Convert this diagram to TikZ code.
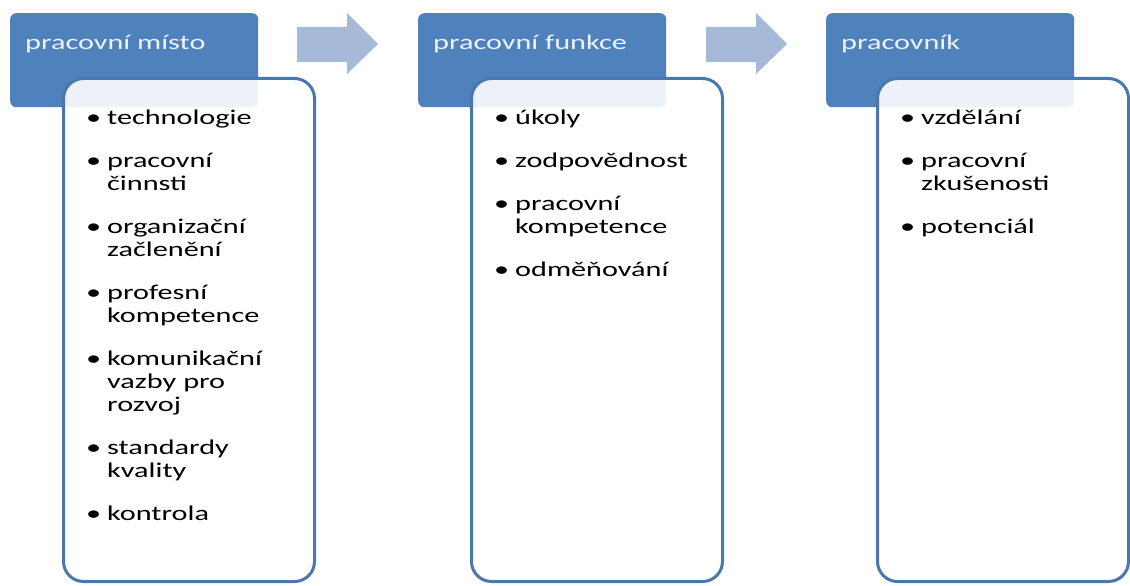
\documentclass[tikz,border=0pt]{standalone}
\usepackage{fontspec}
\setmainfont{Carlito}[FakeStretch=1.44]
\usepackage{tikz}
\usetikzlibrary{positioning}

\definecolor{headblue}{HTML}{4F81BD}
\definecolor{edgeblue}{HTML}{4B77AB}
\definecolor{arrowblue}{HTML}{A7B9D9}
\definecolor{headtext}{HTML}{EEF2F8}

\newcommand{\itm}[1]{\par\hangindent=21pt\hangafter=1\noindent\makebox[21pt][l]{•}#1}

\begin{document}
\begin{tikzpicture}[x=1pt,y=-1pt,
    head/.style={rectangle, rounded corners=6pt, fill=headblue, minimum width=248pt, minimum height=94pt, anchor=north west, inner sep=0pt},
    headlbl/.style={anchor=base west, inner sep=0pt, text=headtext, font=\fontsize{21}{23}\selectfont},
    body/.style={rectangle, rounded corners=20pt, draw=edgeblue, line width=3pt, fill=white, fill opacity=0.9, minimum width=251pt, minimum height=503pt, anchor=north west},
    list/.style={anchor=north west, inner sep=0pt, text width=215pt, font=\fontsize{21}{23}\selectfont},
    blockarrow/.style={fill=arrowblue}]
    \useasboundingbox (0,0) rectangle (1130,586);

    \node[head] (h1) at (10,13) {};
    \node[head] (h2) at (418,13) {};
    \node[head] (h3) at (826,13) {};

    \node[headlbl] (t1) at ([shift={(15,37)}]h1.north west) {pracovní místo};
    \node[headlbl] (t2) at ([shift={(15,37)}]h2.north west) {pracovní funkce};
    \node[headlbl] (t3) at ([shift={(15,37)}]h3.north west) {pracovník};

    \node[body] (b1) at (62,77) {};
    \node[body] (b2) at (470,77) {};
    \node[body] (b3) at (876,77) {};

    \node[list] (l1) at ([shift={(24,4)}]b1.north west) {\setlength{\parskip}{20pt}%
      \itm{technologie}
      \itm{pracovní\newline činnsti}
      \itm{organizační\newline začlenění}
      \itm{profesní\newline kompetence}
      \itm{komunikační\newline vazby pro\newline rozvoj}
      \itm{standardy\newline kvality}
      \itm{kontrola}};
    \node[list] (l2) at ([shift={(24,4)}]b2.north west) {\setlength{\parskip}{20pt}%
      \itm{úkoly}
      \itm{zodpovědnost}
      \itm{pracovní\newline kompetence}
      \itm{odměňování}};
    \node[list] (l3) at ([shift={(24,4)}]b3.north west) {\setlength{\parskip}{20pt}%
      \itm{vzdělání}
      \itm{pracovní\newline zkušenosti}
      \itm{potenciál}};

    % arrows between the headers
    \fill[blockarrow] (297,27) -- (347,27) -- (347,13) -- (378,44) -- (347,74) -- (347,62) -- (297,62) -- cycle;
    \fill[blockarrow] (706,27) -- (756,27) -- (756,13) -- (787,44) -- (756,74) -- (756,62) -- (706,62) -- cycle;
\end{tikzpicture}
\end{document}
